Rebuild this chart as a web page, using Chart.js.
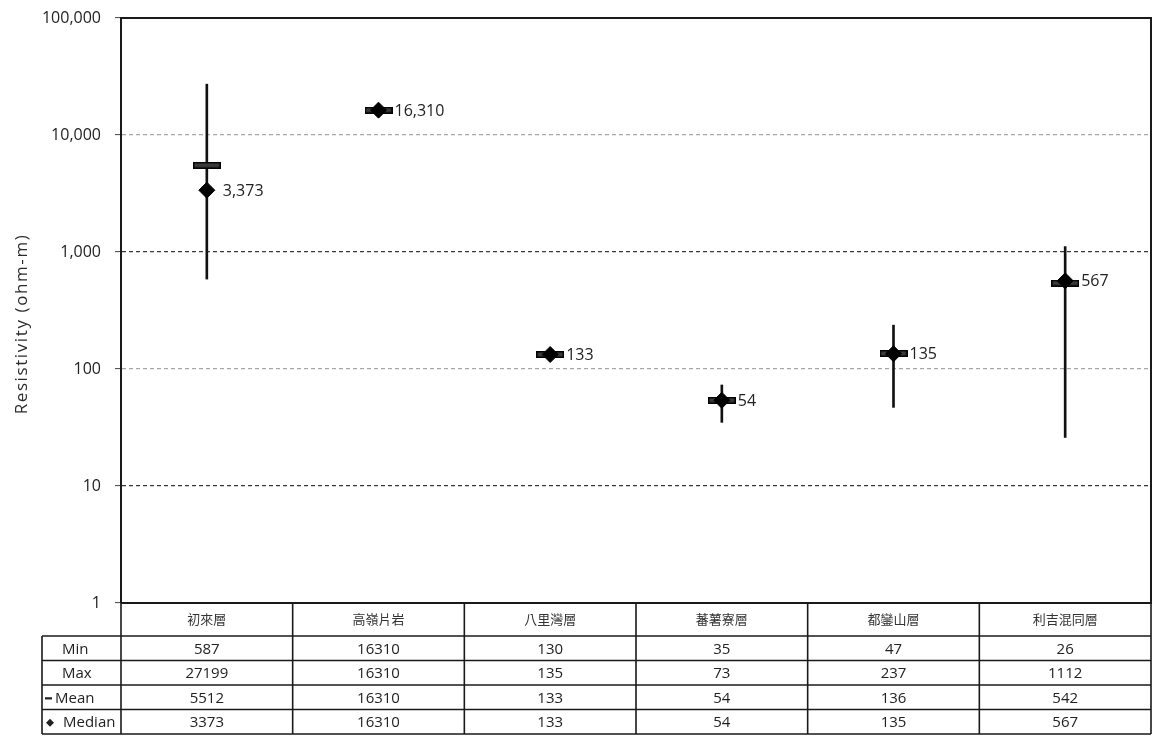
<!DOCTYPE html>
<html>
<head>
<meta charset="utf-8">
<script src="https://cdn.jsdelivr.net/npm/chart.js@4.4.0/dist/chart.umd.min.js"></script>
<style>
html, body { margin: 0; padding: 0; background: #fff; }
#wrap { width: 1153px; height: 736px; }
</style>
</head>
<body>
<div id="wrap"><canvas id="chart" width="1153" height="736"></canvas></div>
<script>
// data
const categories = ['初來層', '高嶺片岩', '八里灣層', '蕃薯寮層', '都鑾山層', '利吉混同層'];
const minValues = [587, 16310, 130, 35, 47, 26];
const maxValues = [27199, 16310, 135, 73, 237, 1112];
const meanValues = [5512, 16310, 133, 54, 136, 542];
const medianValues = [3373, 16310, 133, 54, 135, 567];
const yTicks = [1, 10, 100, 1000, 10000, 100000];
const rowLabels = ['Min', 'Max', 'Mean', 'Median'];

const numFont = '"Open Sans", "DejaVu Sans", sans-serif';
const cjkFont = '"Noto Sans CJK TC", "Noto Sans CJK SC", sans-serif';

// mean marker: short flat bar
function makeMeanMarker() {
    const c = document.createElement('canvas');
    c.width = 28;
    c.height = 7;
    const g = c.getContext('2d');
    g.fillStyle = '#000';
    g.fillRect(0, 0, 28, 7);
    g.fillStyle = '#3a3a3a';
    g.fillRect(1.5, 1.5, 25, 4);
    return c;
}

// labels beside the median diamonds
const medianLabels = {
    id: 'medianLabels',
    afterDatasetsDraw(chart) {
        const ctx = chart.ctx;
        const meta = chart.getDatasetMeta(2);
        ctx.save();
        ctx.font = '16px ' + numFont;
        ctx.fillStyle = '#222';
        ctx.textAlign = 'left';
        ctx.textBaseline = 'middle';
        meta.data.forEach(function(pt, i) {
            ctx.fillText(medianValues[i].toLocaleString('en-US'), pt.x + 16, pt.y + 1);
        });
        ctx.restore();
    }
};

// frame, axis title and data table under the plot
const statTable = {
    id: 'statTable',
    afterDraw(chart) {
        const ctx = chart.ctx;
        const a = chart.chartArea;
        const x = chart.scales.x;
        const step = (a.right - a.left) / categories.length;
        const rowTop = a.bottom + 33;
        const rowH = 24.5;
        const labelLeft = 42;

        ctx.save();
        ctx.strokeStyle = '#1a1a1a';
        ctx.lineWidth = 2;

        // plot frame (top, right, bottom)
        ctx.beginPath();
        ctx.moveTo(a.left, a.top);
        ctx.lineTo(a.right, a.top);
        ctx.lineTo(a.right, a.bottom);
        ctx.lineTo(a.left, a.bottom);
        ctx.stroke();

        const tableBottom = rowTop + rowH * rowLabels.length;

        ctx.lineWidth = 1.6;
        ctx.beginPath();
        for (let i = 0; i <= categories.length; i++) {
            const px = a.left + step * i;
            ctx.moveTo(px, a.bottom);
            ctx.lineTo(px, tableBottom);
        }
        ctx.moveTo(labelLeft, rowTop);
        ctx.lineTo(labelLeft, tableBottom);
        for (let r = 0; r <= rowLabels.length; r++) {
            const py = rowTop + rowH * r;
            ctx.moveTo(labelLeft, py);
            ctx.lineTo(a.right, py);
        }
        ctx.stroke();

        // header row
        ctx.textAlign = 'center';
        ctx.textBaseline = 'middle';
        ctx.fillStyle = '#333';
        ctx.font = '13px ' + cjkFont;
        categories.forEach(function(c, i) {
            ctx.fillText(c, x.getPixelForValue(i), a.bottom + 16);
        });

        // value rows
        const rows = [minValues, maxValues, meanValues, medianValues];
        ctx.font = '15px ' + numFont;
        ctx.fillStyle = '#222';
        rows.forEach(function(vals, r) {
            const cy = rowTop + rowH * r + rowH / 2 + 1;
            vals.forEach(function(v, i) {
                ctx.fillText(String(v), x.getPixelForValue(i), cy);
            });
        });

        // row labels with legend keys
        ctx.textAlign = 'left';
        const labelX = [62, 62, 55, 63];
        rowLabels.forEach(function(lab, r) {
            const cy = rowTop + rowH * r + rowH / 2 + 1;
            if (r === 2) {
                ctx.fillRect(45, cy - 1, 7, 2.2);
            } else if (r === 3) {
                ctx.beginPath();
                ctx.moveTo(50, cy - 4);
                ctx.lineTo(54, cy);
                ctx.lineTo(50, cy + 4);
                ctx.lineTo(46, cy);
                ctx.closePath();
                ctx.fill();
            }
            ctx.fillText(lab, labelX[r], cy);
        });

        // y axis title
        ctx.translate(22, 324);
        ctx.rotate(-Math.PI / 2);
        ctx.font = '17px ' + numFont;
        ctx.fillStyle = '#2a2a2a';
        ctx.textAlign = 'center';
        ctx.letterSpacing = '1.6px';
        ctx.fillText('Resistivity (ohm-m)', 0, 0);
        ctx.restore();
    }
};

const ctx = document.getElementById('chart').getContext('2d');
const chart = new Chart(ctx, {
    type: 'bar',
    data: {
        labels: categories,
        datasets: [
            {
                label: 'Range',
                data: minValues.map(function(v, i) { return [v, maxValues[i]]; }),
                backgroundColor: '#111',
                borderWidth: 0,
                barThickness: 2,
                order: 3
            },
            {
                type: 'line',
                label: 'Mean',
                data: meanValues,
                showLine: false,
                pointStyle: makeMeanMarker(),
                order: 2
            },
            {
                type: 'line',
                label: 'Median',
                data: medianValues,
                showLine: false,
                pointStyle: 'rectRot',
                pointRadius: 8,
                pointBorderWidth: 1,
                pointBackgroundColor: '#000',
                pointBorderColor: '#000',
                order: 1
            }
        ]
    },
    options: {
        responsive: false,
        animation: false,
        devicePixelRatio: 1,
        layout: { autoPadding: false, padding: { left: 0, right: 2, top: 18, bottom: 133 } },
        plugins: {
            legend: { display: false },
            tooltip: { enabled: false }
        },
        scales: {
            x: {
                display: false,
                offset: true
            },
            y: {
                type: 'logarithmic',
                min: 1,
                max: 100000,
                afterBuildTicks: function(scale) {
                    scale.ticks = yTicks.map(function(v) { return { value: v }; });
                },
                afterFit: function(scale) {
                    scale.width = 121;
                    scale.paddingTop = 0;
                    scale.paddingBottom = 0;
                    scale.paddingLeft = 0;
                    scale.paddingRight = 0;
                },
                ticks: {
                    callback: function(v) { return Number(v).toLocaleString('en-US'); },
                    font: { family: numFont, size: 16 },
                    color: '#222',
                    padding: 14
                },
                grid: {
                    color: function(c) {
                        const v = c.tick ? c.tick.value : 0;
                        if (v === 1 || v === 100000) return 'rgba(0,0,0,0)';
                        return (v === 10000 || v === 100) ? '#a8a8a8' : '#3a3a3a';
                    },
                    lineWidth: 1.2,
                    tickColor: '#444',
                    tickLength: 6,
                    tickWidth: 1
                },
                border: { display: true, color: '#1a1a1a', width: 2, dash: [4, 3] }
            }
        }
    },
    plugins: [medianLabels, statTable]
});
</script>
</body>
</html>
